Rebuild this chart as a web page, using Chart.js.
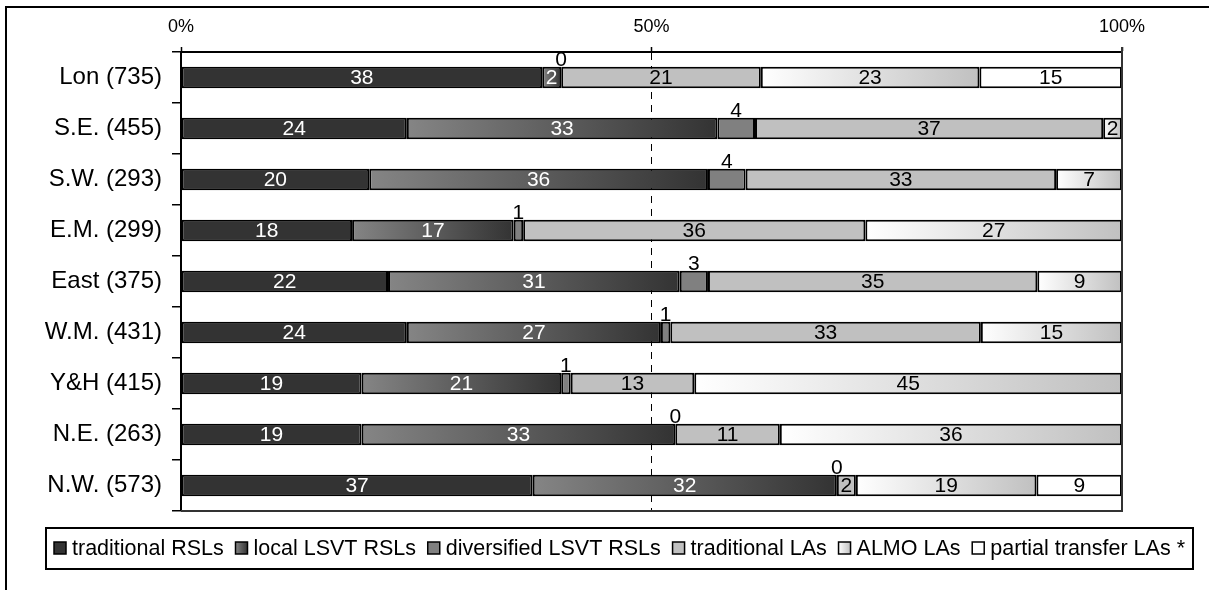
<!DOCTYPE html>
<html>
<head>
<meta charset="utf-8">
<script src="https://cdn.jsdelivr.net/npm/chart.js@4.4.0/dist/chart.umd.min.js"></script>
<style>
html, body { margin: 0; padding: 0; background: #fff; }
#wrap { width: 1209px; height: 590px; }
</style>
</head>
<body>
<div id="wrap"><canvas id="tenureChart" width="1209" height="590"></canvas></div>
<script>
const regions = ['Lon (735)', 'S.E. (455)', 'S.W. (293)', 'E.M. (299)', 'East (375)', 'W.M. (431)', 'Y&H (415)', 'N.E. (263)', 'N.W. (573)'];
const seriesNames = ['traditional RSLs', 'local LSVT RSLs', 'diversified LSVT RSLs', 'traditional LAs', 'ALMO LAs', 'partial transfer LAs *'];
const tradRSL = [38, 24, 20, 18, 22, 24, 19, 19, 37];
const localLSVT = [2, 33, 36, 17, 31, 27, 21, 33, 32];
const diversLSVT = [0, 4, 4, 1, 3, 1, 1, 0, 0];
const tradLA = [21, 37, 33, 36, 35, 33, 13, 11, 2];
const almoLA = [23, 2, 7, 27, 9, 15, 45, 36, 19];
const partialLA = [15, 0, 0, 0, 0, 0, 0, 0, 9];
const xTickValues = [0, 50, 100];
const xTickLabels = ['0%', '50%', '100%'];

const series = [tradRSL, localLSVT, diversLSVT, tradLA, almoLA, partialLA];
const FONT = '"Liberation Sans", Arial, sans-serif';

// each bar is drawn as share of its row total (100% stacked)
const totals = regions.map((r, i) => series.reduce((s, arr) => s + arr[i], 0));
const pct = series.map(arr => arr.map((v, i) => v / totals[i] * 100));

// fills: plain colour or [from, to] for a left-to-right gradient
const fills = ['#333333', ['#858585', '#333333'], '#808080', '#c0c0c0', ['#ffffff', '#c0c0c0'], '#ffffff'];
const labelColors = ['#fff', '#fff', '#000', '#000', '#000', '#000'];

function fillFor(k) {
  const f = fills[k];
  if (!Array.isArray(f)) return f;
  return function(c) {
    if (c.type !== 'data') return f[1];
    const xs = c.chart.scales.x;
    let start = 0;
    for (let m = 0; m < k; m++) start += pct[m][c.dataIndex];
    const end = start + pct[k][c.dataIndex];
    const x0 = xs.getPixelForValue(start), x1 = xs.getPixelForValue(end);
    if (!isFinite(x0) || !isFinite(x1) || x1 - x0 < 1) return f[0];
    const g = c.chart.ctx.createLinearGradient(x0, 0, x1, 0);
    g.addColorStop(0, f[0]);
    g.addColorStop(1, f[1]);
    return g;
  };
}

const barLabels = {
  id: 'barLabels',
  afterDatasetsDraw(chart) {
    const ctx = chart.ctx;
    ctx.save();
    ctx.font = '21px ' + FONT;
    ctx.textAlign = 'center';
    chart.data.datasets.forEach((ds, i) => {
      chart.getDatasetMeta(i).data.forEach((bar, j) => {
        const v = series[i][j];
        const cx = (bar.x + bar.base) / 2;
        if (i === 2) {
          ctx.fillStyle = '#000';
          ctx.textBaseline = 'alphabetic';
          ctx.fillText(String(v), cx, bar.y - bar.height / 2 - 1);
        } else if (v > 0) {
          ctx.fillStyle = labelColors[i];
          ctx.textBaseline = 'middle';
          ctx.fillText(String(v), cx, bar.y + 1);
        }
      });
    });
    ctx.restore();
  }
};

const frames = {
  id: 'frames',
  afterDraw(chart) {
    const ctx = chart.ctx;
    const a = chart.chartArea;
    ctx.save();
    // outer border (runs off the right and bottom of the picture)
    ctx.strokeStyle = '#000';
    ctx.lineWidth = 2;
    ctx.beginPath();
    ctx.moveTo(6, 600);
    ctx.lineTo(6, 7);
    ctx.lineTo(1220, 7);
    ctx.stroke();
    // right and bottom edges of plot
    ctx.strokeStyle = '#333';
    ctx.beginPath();
    ctx.moveTo(a.right, a.top - 5);
    ctx.lineTo(a.right, a.bottom);
    ctx.lineTo(a.left, a.bottom);
    ctx.stroke();

    // legend
    ctx.strokeStyle = '#000';
    ctx.lineWidth = 2;
    ctx.strokeRect(46, 528, 1147, 41);
    ctx.font = '21.5px ' + FONT;
    ctx.textBaseline = 'middle';
    ctx.textAlign = 'left';
    const box = 12, gapText = 6;
    const widths = seriesNames.map(n => box + gapText + ctx.measureText(n).width);
    const sum = widths.reduce((s, w) => s + w, 0);
    const gap = (1185 - 54 - sum) / (seriesNames.length - 1);
    let x = 54;
    const cy = 548;
    seriesNames.forEach((n, i) => {
      const f = fills[i];
      if (Array.isArray(f)) {
        const g = ctx.createLinearGradient(x, 0, x + box, 0);
        g.addColorStop(0, f[0]);
        g.addColorStop(1, f[1]);
        ctx.fillStyle = g;
      } else {
        ctx.fillStyle = f;
      }
      ctx.fillRect(x, cy - box / 2, box, box);
      ctx.lineWidth = 1.5;
      ctx.strokeStyle = '#000';
      ctx.strokeRect(x, cy - box / 2, box, box);
      ctx.fillStyle = '#000';
      ctx.fillText(n, x + box + gapText, cy + 1);
      x += widths[i] + gap;
    });
    ctx.restore();
  }
};

const ctx = document.getElementById('tenureChart').getContext('2d');
new Chart(ctx, {
  type: 'bar',
  data: {
    labels: regions,
    datasets: seriesNames.map((name, k) => ({
      label: name,
      data: pct[k],
      backgroundColor: fillFor(k),
      borderColor: '#000',
      borderWidth: 2,
      borderSkipped: false,
      barPercentage: 0.42,
      categoryPercentage: 1
    }))
  },
  options: {
    indexAxis: 'y',
    responsive: false,
    animation: false,
    layout: { padding: { left: 0, top: 0, right: 87, bottom: 79 } },
    plugins: {
      legend: { display: false },
      tooltip: { enabled: false }
    },
    scales: {
      x: {
        position: 'top',
        stacked: true,
        min: 0,
        max: 100,
        afterFit(s) { s.height = 52; },
        ticks: {
          stepSize: 50,
          autoSkip: false,
          maxRotation: 0,
          padding: 9,
          color: '#000',
          font: { size: 18, family: FONT },
          callback: v => xTickLabels[xTickValues.indexOf(v)]
        },
        grid: {
          color: c => (c.tick && c.tick.value === 50) ? '#000' : 'rgba(0,0,0,0)',
          lineWidth: 1,
          tickColor: '#000',
          tickLength: 5,
          tickWidth: 1.5,
          tickBorderDash: []
        },
        border: { display: true, color: '#000', width: 2, dash: [7, 6] }
      },
      y: {
        stacked: true,
        afterFit(s) { s.width = 181; },
        ticks: {
          padding: 10,
          color: '#000',
          font: { size: 24, family: FONT }
        },
        grid: {
          drawOnChartArea: false,
          offset: true,
          tickLength: 9,
          color: '#000',
          lineWidth: 1.5
        },
        border: { color: '#000', width: 2 }
      }
    }
  },
  plugins: [barLabels, frames]
});
</script>
</body>
</html>
